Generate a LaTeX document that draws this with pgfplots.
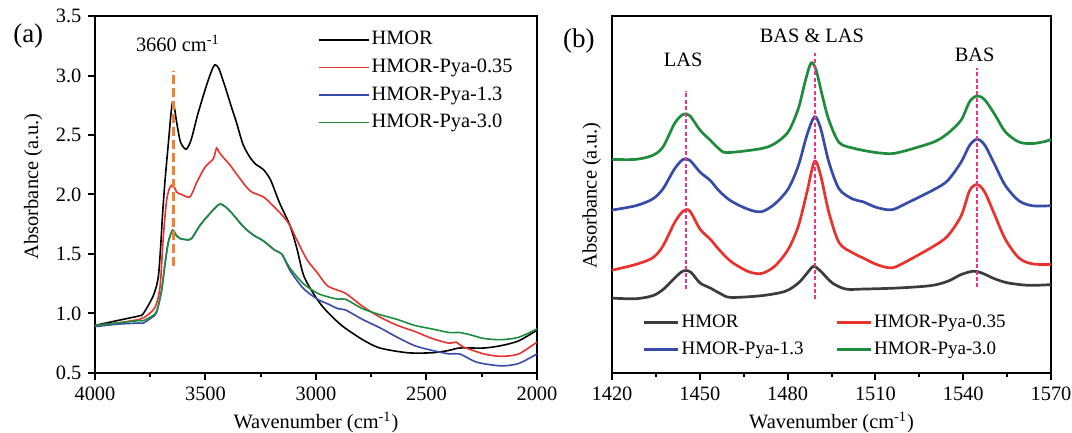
\documentclass[border=0pt]{standalone}
\usepackage{fontspec}
\setmainfont{Liberation Serif}
\usepackage{pgfplots}
\pgfplotsset{compat=1.18}
\definecolor{cgray}{RGB}{60,60,60}
\definecolor{cred}{RGB}{232,50,45}
\definecolor{cblue}{RGB}{55,75,168}
\definecolor{cgreen}{RGB}{30,140,60}
\definecolor{corange}{RGB}{240,128,50}
\definecolor{cpink}{RGB}{236,50,140}
\pgfplotsset{
  myax/.style={
    scale only axis, axis line style={line width=1pt}, clip=false,
    tick align=outside, major tick length=3.3pt, minor tick length=1.8pt,
    every tick/.style={line width=1pt, black},
    xtick pos=bottom, ytick pos=left,
    tick label style={font=\fontsize{10.2}{12}\selectfont},
    /pgf/number format/assume math mode=true,
    /pgf/number format/1000 sep={},
    label style={font=\fontsize{10.2}{12}\selectfont},
  }
}
\begin{document}
\begin{tikzpicture}[x=1pt,y=1pt]
\path[use as bounding box] (0,0) rectangle (536,216.5);
\begin{axis}[myax, at={(47.5pt,30pt)}, anchor=south west,
  width=221pt, height=178.5pt,
  x dir=reverse, xmin=2000, xmax=4000, ymin=0.5, ymax=3.5,
  xtick={2000,2500,3000,3500,4000}, minor x tick num=1,
  ytick={0.5,1,1.5,2,2.5,3,3.5},
  yticklabel style={/pgf/number format/fixed, /pgf/number format/fixed zerofill, /pgf/number format/precision=1},
  xlabel={Wavenumber (cm\textsuperscript{-1})}, ylabel={Absorbance (a.u.)},
  xlabel style={at={(axis description cs:0.5,-0.138)}, anchor=center},
  ylabel style={at={(axis description cs:-0.1396,0.523)}, anchor=center},
  legend style={at={(axis description cs:0.5035,0.968)}, anchor=north west, draw=none, fill=none, inner sep=0pt,
    font=\fontsize{10.2}{12}\selectfont, row sep=1.8pt,
    nodes={inner sep=1pt, text height=0.75em, text depth=0.25em}},
  legend cell align=left,
  legend image code/.code={\draw[#1, line width=0.8pt] (0pt,0pt) -- (25pt,0pt);},
]
\addplot[black, line width=0.8pt, smooth, tension=0.45] coordinates {(4000,0.90)(3900,0.94)(3800,0.98)(3781,1.00)(3736,1.15)(3714,1.30)(3703,1.56)(3694,1.84)(3683,2.12)(3667,2.45)(3655,2.70)(3646,2.78)(3628,2.58)(3613,2.44)(3588,2.38)(3565,2.46)(3534,2.68)(3495,2.92)(3470,3.05)(3457,3.09)(3440,3.06)(3412,2.91)(3380,2.72)(3359,2.60)(3330,2.42)(3298,2.31)(3270,2.25)(3238,2.21)(3205,2.12)(3165,1.93)(3118,1.74)(3087,1.55)(3056,1.32)(3009,1.16)(2962,1.04)(2884,0.90)(2789,0.78)(2711,0.71)(2585,0.67)(2475,0.67)(2397,0.69)(2350,0.71)(2240,0.71)(2162,0.73)(2083,0.77)(2000,0.86)};
\addlegendentry{HMOR}
\addplot[cred, line width=0.8pt, smooth, tension=0.45] coordinates {(4000,0.90)(3900,0.92)(3800,0.95)(3774,0.97)(3729,1.05)(3706,1.22)(3691,1.64)(3676,1.95)(3661,2.06)(3646,2.08)(3630,2.02)(3608,2.00)(3570,1.98)(3540,2.10)(3502,2.23)(3465,2.30)(3450,2.39)(3440,2.36)(3419,2.31)(3390,2.25)(3359,2.17)(3298,2.03)(3238,1.98)(3197,1.91)(3150,1.82)(3118,1.74)(3087,1.62)(3040,1.45)(2993,1.34)(2946,1.23)(2867,1.17)(2789,1.06)(2711,0.97)(2632,0.90)(2554,0.85)(2475,0.79)(2397,0.75)(2366,0.76)(2334,0.72)(2240,0.66)(2162,0.64)(2083,0.66)(2000,0.76)};
\addlegendentry{HMOR-Pya-0.35}
\addplot[cblue, line width=0.8pt, smooth, tension=0.45] coordinates {(4000,0.89)(3900,0.91)(3800,0.92)(3781,0.92)(3740,0.97)(3721,1.01)(3699,1.19)(3683,1.42)(3668,1.60)(3649,1.70)(3630,1.65)(3615,1.63)(3585,1.62)(3563,1.63)(3525,1.74)(3480,1.84)(3434,1.92)(3389,1.86)(3329,1.73)(3284,1.66)(3238,1.61)(3185,1.53)(3155,1.50)(3117,1.36)(3057,1.21)(2993,1.12)(2946,1.08)(2900,1.04)(2867,1.03)(2789,0.95)(2711,0.88)(2632,0.80)(2554,0.73)(2475,0.69)(2397,0.66)(2350,0.66)(2271,0.59)(2162,0.56)(2083,0.58)(2000,0.66)};
\addlegendentry{HMOR-Pya-1.3}
\addplot[cgreen, line width=0.8pt, smooth, tension=0.45] coordinates {(4000,0.90)(3900,0.92)(3800,0.94)(3781,0.94)(3740,0.98)(3721,1.02)(3699,1.19)(3683,1.42)(3668,1.60)(3649,1.70)(3630,1.65)(3615,1.63)(3585,1.62)(3563,1.63)(3525,1.74)(3480,1.84)(3434,1.92)(3389,1.86)(3329,1.73)(3284,1.66)(3238,1.61)(3185,1.53)(3155,1.50)(3117,1.38)(3057,1.25)(2993,1.17)(2946,1.14)(2900,1.12)(2867,1.12)(2789,1.04)(2711,0.99)(2632,0.95)(2554,0.90)(2475,0.87)(2397,0.84)(2350,0.84)(2300,0.82)(2240,0.79)(2162,0.78)(2083,0.80)(2000,0.87)};
\addlegendentry{HMOR-Pya-3.0}
\addplot[corange, line width=1.5pt, dash pattern=on 4.5pt off 2pt, forget plot] coordinates {(3646,1.40)(3646,3.04)};
\node[font=\fontsize{10.2}{12}\selectfont] at (axis cs:3625,3.27) {3660 cm\textsuperscript{-1}};
\node[font=\fontsize{13.5}{15}\selectfont] at (axis description cs:-0.151,0.944) {(a)};
\end{axis}
\begin{axis}[myax, at={(306pt,30pt)}, anchor=south west,
  width=219.5pt, height=178.5pt,
  xmin=1420, xmax=1570, ymin=0, ymax=354.3,
  xtick={1420,1450,1480,1510,1540,1570}, minor x tick num=1,
  ytick=\empty,
  xlabel={Wavenumber (cm\textsuperscript{-1})}, ylabel={Absorbance (a.u.)},
  xlabel style={at={(axis description cs:0.5,-0.138)}, anchor=center},
  ylabel style={at={(axis description cs:-0.046,0.497)}, anchor=center},
  legend columns=2,
  legend style={at={(axis description cs:0.0695,0.177)}, anchor=north west, draw=none, fill=none, inner sep=0pt,
    font=\fontsize{9.5}{11}\selectfont, row sep=1.5pt,
    nodes={inner sep=1pt, text height=0.75em, text depth=0.25em},
    /tikz/every even column/.append style={column sep=15pt}},
  legend cell align=left,
  legend image code/.code={\draw[#1, line width=1.35pt] (0pt,0pt) -- (17pt,0pt);},
]
\addplot[cgray, line width=1.35pt, smooth, tension=0.5] coordinates {(1420,74.3)(1428.1,73.7)(1433.9,76.7)(1437.4,82.7)(1440.9,92.7)(1443.7,100.3)(1445.5,101.7)(1447.2,99.3)(1450.1,89.3)(1453.6,84.3)(1457.1,78.7)(1460.5,75)(1471,76.7)(1479.1,81)(1483.7,89.3)(1487.2,101)(1488.9,106)(1491.3,101)(1495.3,89.3)(1499.9,83.3)(1505.7,83.3)(1517.3,84.3)(1528.9,86.7)(1534.7,91)(1539.3,97.7)(1543.4,101)(1546.3,99.3)(1550.9,93.3)(1555.5,89.3)(1562.5,87)(1570,87.7)};
\addlegendentry{HMOR}
\addplot[cred, line width=1.35pt, smooth, tension=0.5] coordinates {(1420,102)(1428.1,107.7)(1433.9,114.3)(1437.4,126)(1441.4,149.3)(1444.3,160.7)(1446.6,160.7)(1450.1,142.7)(1453.6,132.7)(1456.5,122.7)(1460.5,111)(1466.3,101)(1471,98.7)(1475.6,106)(1480.2,122.7)(1483.7,146)(1486.6,179.3)(1489.2,210)(1491.3,196)(1494.1,159.3)(1497.6,129.3)(1502.2,119.3)(1505.7,114.3)(1510.4,107.7)(1515.6,104.3)(1520.8,111)(1530,126)(1534.7,136)(1539.3,156)(1542.2,181)(1544.8,187)(1547.4,179.3)(1550.9,156)(1554.4,132.7)(1559,114.3)(1563.6,108.3)(1570,107.7)};
\addlegendentry{HMOR-Pya-0.35}
\addplot[cblue, line width=1.35pt, smooth, tension=0.5] coordinates {(1420,161.7)(1428.1,166)(1433.9,172.7)(1437.4,182.7)(1441.4,202.7)(1444.3,212)(1446.6,211)(1450.1,199.3)(1453.6,191)(1456.5,181)(1460.5,171)(1466.3,162.7)(1471,160)(1475.6,167.7)(1480.2,182.7)(1483.7,206)(1486.6,236)(1489.2,254.3)(1491.3,242.7)(1494.1,209.3)(1497.6,182.7)(1502.2,172.7)(1505.7,170)(1510.4,164.3)(1515.6,162)(1520.8,168.7)(1530,182)(1534.7,191)(1539.3,209.3)(1542.2,226)(1544.8,232)(1547.4,226)(1550.9,206)(1554.4,186)(1559,171)(1563.6,166)(1570,166)};
\addlegendentry{HMOR-Pya-1.3}
\addplot[cgreen, line width=1.35pt, smooth, tension=0.5] coordinates {(1420,212)(1428.1,212)(1433.9,216)(1437.4,224.3)(1441.4,247.7)(1444.3,256.7)(1446.6,255.3)(1450.1,241)(1453.6,231)(1456.5,222.7)(1459.4,218.7)(1471,222.7)(1475.6,227.7)(1480.2,239.3)(1483.7,262.7)(1486,289.3)(1488,307.7)(1489.7,301)(1491.8,276)(1494.1,251)(1497.6,228.7)(1502.2,223.3)(1505.7,221)(1510.4,218.7)(1515.6,217.7)(1520.8,221)(1530,229.3)(1534.7,237.7)(1539.3,251)(1542.2,269.3)(1544.8,275)(1547.4,271)(1550.9,256)(1554.4,239.3)(1559,229.3)(1563.6,227.7)(1568.3,230)(1570,232)};
\addlegendentry{HMOR-Pya-3.0}
\addplot[cpink, line width=0.9pt, dash pattern=on 2pt off 1.2pt, forget plot] coordinates {(1445.3,83)(1445.3,280)};
\addplot[cpink, line width=0.9pt, dash pattern=on 2pt off 1.2pt, forget plot] coordinates {(1489.3,73)(1489.3,318)};
\addplot[cpink, line width=0.9pt, dash pattern=on 2pt off 1.2pt, forget plot] coordinates {(1544.8,85)(1544.8,303)};
\node[font=\fontsize{10.2}{12}\selectfont] at (axis cs:1444.3,311) {LAS};
\node[font=\fontsize{10.2}{12}\selectfont] at (axis cs:1488.3,334.3) {BAS \& LAS};
\node[font=\fontsize{10.2}{12}\selectfont] at (axis cs:1543.9,315.3) {BAS};
\node[font=\fontsize{13.5}{15}\selectfont] at (axis description cs:-0.0757,0.929) {(b)};
\end{axis}
\end{tikzpicture}
\end{document}
